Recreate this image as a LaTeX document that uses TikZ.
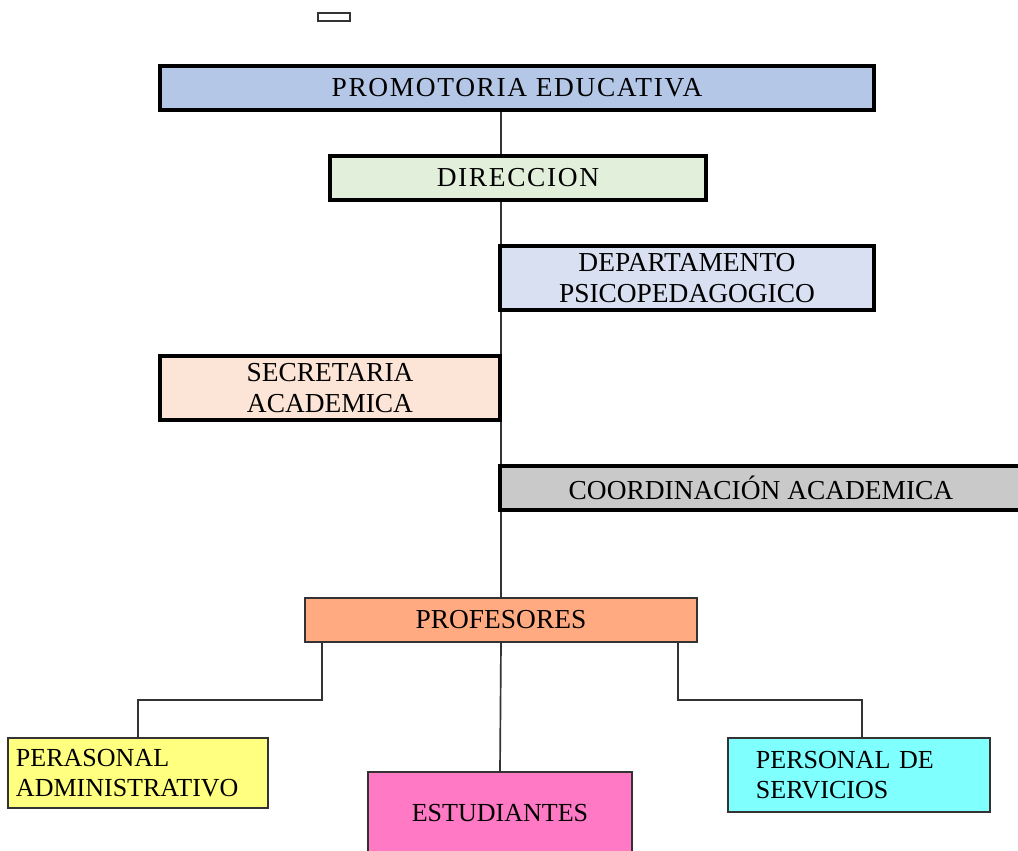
\documentclass[tikz,border=0pt]{standalone}
\usepackage{fontspec}
\setmainfont{Liberation Serif}
\usetikzlibrary{backgrounds}
\definecolor{promoblue}{HTML}{B4C7E7}
\definecolor{dirgreen}{HTML}{E2EFDA}
\definecolor{deplilac}{HTML}{D9E0F2}
\definecolor{secpeach}{HTML}{FCE4D7}
\definecolor{coordgray}{HTML}{C9C9C9}
\definecolor{profsalmon}{HTML}{FFAA80}
\definecolor{admyellow}{HTML}{FFFF80}
\definecolor{estpink}{HTML}{FF79C5}
\definecolor{servcyan}{HTML}{80FFFF}

\begin{document}
\begin{tikzpicture}[x=0.025cm, y=-0.025cm,
  box/.style={draw=black, line width=2.3pt, align=center, inner sep=0pt,
    font=\fontsize{19.5}{21.5}\selectfont},
  spaced/.style={font=\fontsize{19.5}{21.5}\selectfont\addfontfeatures{LetterSpace=6}},
  lowbox/.style={box, draw=black!80, line width=1.3pt, font=\fontsize{18.5}{21.5}\selectfont},
  link/.style={draw=black!80, line width=1.2pt}]
  \useasboundingbox (0,0) rectangle (1018,850);

  \node[draw=black!80, line width=1.3pt, minimum width=0.8cm, minimum height=0.2cm, inner sep=0pt] (mark) at (334,17) {};
  \node[box, spaced, fill=promoblue, minimum width=17.85cm, minimum height=1.1cm] (promo) at (517,88) {PROMOTORIA EDUCATIVA};
  \node[box, spaced, fill=dirgreen, minimum width=9.4cm, minimum height=1.1cm] (dir) at (518,178) {DIRECCION};
  \node[box, fill=deplilac, minimum width=9.35cm, minimum height=1.6cm] (dep) at (687,278) {DEPARTAMENTO\\PSICOPEDAGOGICO};
  \node[box, fill=secpeach, minimum width=8.5cm, minimum height=1.6cm] (sec) at (330,388) {SECRETARIA\\ACADEMICA};
  \node[box, fill=coordgray, minimum width=13.05cm, minimum height=1.1cm] (coord) at (761,488) {COORDINACIÓN ACADEMICA};
  \node[box, draw=black!80, line width=1.3pt, fill=profsalmon, minimum width=9.8cm, minimum height=1.1cm] (prof) at (501,620) {PROFESORES};
  \node[lowbox, fill=admyellow, align=left, text width=6.1cm, inner xsep=0.2cm, minimum height=1.75cm] (adm) at (138,773) {PERASONAL\\ADMINISTRATIVO};
  \node[lowbox, fill=estpink, minimum width=6.6cm, minimum height=2.05cm] (est) at (500,813) {ESTUDIANTES};
  \node[lowbox, fill=servcyan, align=left, text width=5.15cm, inner xsep=0.7cm, minimum height=1.85cm] (serv) at (859,775) {PERSONAL DE\\SERVICIOS};

  % main line behind the boxes
  \begin{scope}[on background layer]
    \draw[link] (promo.south -| prof.north) -- (prof.north);
  \end{scope}

  \coordinate (pl) at (322,642);
  \coordinate (pr) at (678,642);
  \draw[link] (prof.south) -- (est.north);
  \draw[link] (pl) -- ++(0,58) -| (adm.north);
  \draw[link] (pr) -- ++(0,58) -| ([xshift=0.075cm]serv.north);
\end{tikzpicture}
\end{document}
